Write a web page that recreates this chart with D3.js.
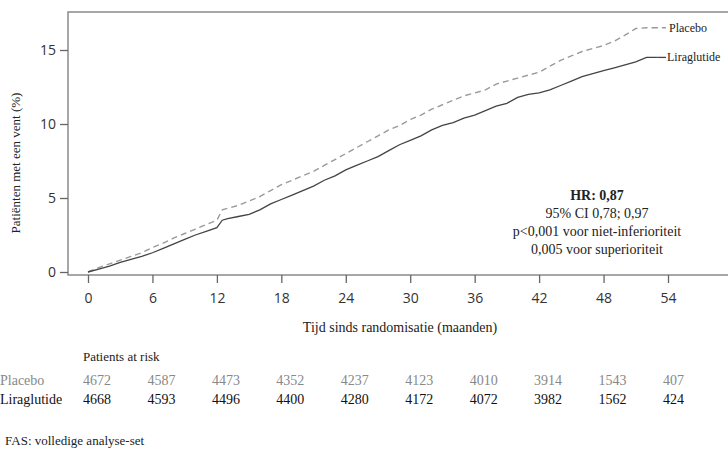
<!DOCTYPE html>
<html><head><meta charset="utf-8">
<script src="https://cdn.jsdelivr.net/npm/d3@7/dist/d3.min.js"></script>
<style>body{margin:0;background:#fff}svg{display:block}</style>
</head><body>
<svg id="c" width="728" height="451"></svg>
<script>
const xTicks = [0, 6, 12, 18, 24, 30, 36, 42, 48, 54];
const yTicks = [0, 5, 10, 15];
const placeboTime = [0,1,2,3,4,5,6,7,8,9,10,11,12,12.5,13,14,15,16,17,18,19,20,21,22,23,24,25,26,27,28,29,30,31,32,33,34,35,36,37,38,39,40,41,42,43,44,45,46,47,48,49,50,51,52,52.5];
const placeboValues = [0,0.3,0.55,0.8,1.05,1.3,1.65,1.95,2.3,2.6,2.9,3.2,3.5,4.2,4.3,4.5,4.8,5.1,5.5,5.9,6.2,6.5,6.8,7.2,7.6,8.0,8.4,8.8,9.2,9.6,9.9,10.3,10.6,11.0,11.3,11.6,11.9,12.1,12.3,12.7,12.9,13.1,13.3,13.5,13.9,14.3,14.6,14.9,15.1,15.3,15.6,16.0,16.45,16.5,16.5];
const liraTime = [0,1,2,3,4,5,6,7,8,9,10,11,12,12.5,13,14,15,16,17,18,19,20,21,22,23,24,25,26,27,28,29,30,31,32,33,34,35,36,37,38,39,40,41,42,43,44,45,46,47,48,49,50,51,52,53];
const liraValues = [0,0.2,0.4,0.65,0.85,1.05,1.3,1.6,1.9,2.2,2.5,2.75,3.0,3.5,3.6,3.75,3.9,4.2,4.6,4.9,5.2,5.5,5.8,6.2,6.5,6.9,7.2,7.5,7.8,8.2,8.6,8.9,9.2,9.6,9.9,10.1,10.4,10.6,10.9,11.2,11.4,11.8,12.0,12.1,12.3,12.6,12.9,13.2,13.4,13.6,13.8,14.0,14.2,14.5,14.5];
const riskPlacebo = [4672,4587,4473,4352,4237,4123,4010,3914,1543,407];
const riskLira = [4668,4593,4496,4400,4280,4172,4072,3982,1562,424];
const seriesNames = ["Placebo", "Liraglutide"];
const hrLines = ["HR: 0,87", "95% CI 0,78; 0,97", "p<0,001 voor niet-inferioriteit", "0,005 voor superioriteit"];

(function () {
const svg = d3.select("#c");
const serif = "'Liberation Serif','Times New Roman',serif";
const sans = "'Open Sans','DejaVu Sans',sans-serif";

const x = d3.scaleLinear().domain([0, 54]).range([88, 668]);
const y = d3.scaleLinear().domain([0, 15]).range([272, 50]);

const fLeft = 68, fTop = 12, fBottom = 275;

svg.append("rect").attr("x", fLeft).attr("y", fTop).attr("width", 740 - fLeft).attr("height", fBottom - fTop)
  .attr("fill", "none").attr("stroke", "#8a8a8a").attr("stroke-width", 1.5);

const yAxis = svg.append("g").attr("transform", `translate(${fLeft},0)`)
  .call(d3.axisLeft(y).tickValues(yTicks).tickSize(8).tickPadding(4));
yAxis.select(".domain").remove();
yAxis.selectAll("line").attr("stroke", "#666").attr("stroke-width", 1.3);
yAxis.selectAll("text").attr("font-family", sans).attr("font-size", 14).attr("fill", "#333");

const xAxis = svg.append("g").attr("transform", `translate(0,${fBottom})`)
  .call(d3.axisBottom(x).tickValues(xTicks).tickSize(8).tickPadding(10));
xAxis.select(".domain").remove();
xAxis.selectAll("line").attr("stroke", "#666").attr("stroke-width", 1.3);
xAxis.selectAll("text").attr("font-family", sans).attr("font-size", 14).attr("fill", "#333");

const line = d3.line().x(d => x(d[0])).y(d => y(d[1])).curve(d3.curveLinear);
const pData = placeboTime.map((t, i) => [t, placeboValues[i]]);
const lData = liraTime.map((t, i) => [t, liraValues[i]]);
svg.append("path").datum(pData).attr("d", line).attr("fill", "none")
  .attr("stroke", "#9a9a9a").attr("stroke-width", 1.4).attr("stroke-dasharray", "6,4");
svg.append("path").datum(lData).attr("d", line).attr("fill", "none")
  .attr("stroke", "#444").attr("stroke-width", 1.3);

const pEnd = pData[pData.length - 1], lEnd = lData[lData.length - 1];
svg.append("line").attr("x1", x(pEnd[0])).attr("x2", 666).attr("y1", y(pEnd[1])).attr("y2", y(pEnd[1]))
  .attr("stroke", "#9a9a9a").attr("stroke-width", 1.4).attr("stroke-dasharray", "6,4");
svg.append("line").attr("x1", x(lEnd[0])).attr("x2", 666).attr("y1", y(lEnd[1])).attr("y2", y(lEnd[1]))
  .attr("stroke", "#444").attr("stroke-width", 1.3);
svg.append("text").attr("x", 669).attr("y", y(pEnd[1]) + 4).text(seriesNames[0])
  .attr("font-family", serif).attr("font-size", 12).attr("fill", "#222");
svg.append("text").attr("x", 667).attr("y", y(lEnd[1]) + 4).text(seriesNames[1])
  .attr("font-family", serif).attr("font-size", 12).attr("fill", "#222");

svg.append("text").attr("transform", "translate(20,163) rotate(-90)").attr("text-anchor", "middle")
  .attr("font-family", serif).attr("font-size", 13).attr("fill", "#222").text("Patiënten met een vent (%)");

const hrY = [200, 218, 236, 254];
hrLines.forEach((s, i) => {
  svg.append("text").attr("x", 597).attr("y", hrY[i]).attr("text-anchor", "middle")
    .attr("font-family", serif).attr("font-size", 14).attr("fill", "#222")
    .attr("font-weight", i === 0 ? "bold" : "normal").text(s);
});

svg.append("text").attr("x", 400).attr("y", 332).attr("text-anchor", "middle")
  .attr("font-family", serif).attr("font-size", 14).attr("fill", "#222").text("Tijd sinds randomisatie (maanden)");

svg.append("text").attr("x", 83).attr("y", 361).attr("font-family", serif).attr("font-size", 13)
  .attr("fill", "#222").text("Patients at risk");
const rows = [{name: seriesNames[0], vals: riskPlacebo, color: "#888", yy: 385},
              {name: seriesNames[1], vals: riskLira, color: "#111", yy: 404}];
rows.forEach(r => {
  svg.append("text").attr("x", 0).attr("y", r.yy).attr("font-family", serif).attr("font-size", 14)
    .attr("fill", r.color).text(r.name);
  r.vals.forEach((v, i) => {
    svg.append("text").attr("x", x(xTicks[i]) - 5).attr("y", r.yy).attr("font-family", serif)
      .attr("font-size", 14).attr("fill", r.color).text(v);
  });
});

svg.append("text").attr("x", 5).attr("y", 445).attr("font-family", serif).attr("font-size", 13)
  .attr("fill", "#222").text("FAS: volledige analyse-set");
})();
</script>
</body></html>
